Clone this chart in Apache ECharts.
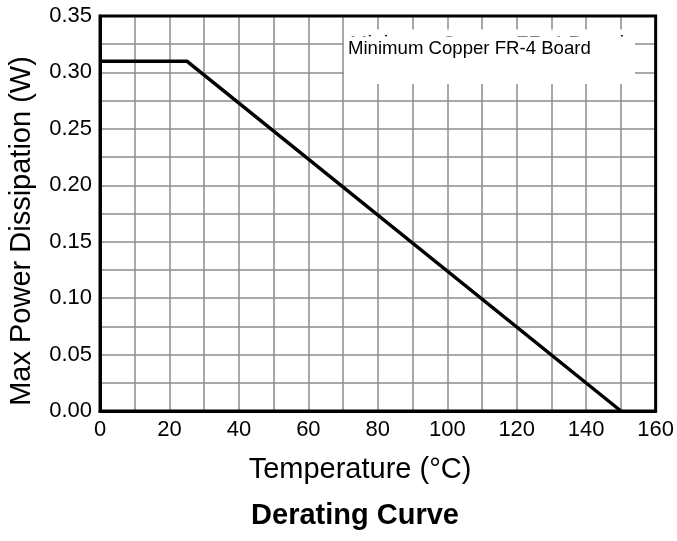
<!DOCTYPE html>
<html>
<head>
<meta charset="utf-8">
<script src="https://cdn.jsdelivr.net/npm/echarts@6/dist/echarts.min.js"></script>
<style>html,body{margin:0;padding:0;background:#fff;}#c{width:677px;height:541px;}</style>
</head>
<body>
<div id="c"></div>
<script>
var temperature = [0, 25, 150];
var maxPower = [0.31, 0.31, 0.00];
var chartTitle = 'Derating Curve';
var xName = 'Temperature (°C)';
var yName = 'Max Power Dissipation (W)';
var legendText = 'Minimum Copper FR-4 Board';

var FONT = "'Liberation Sans', Arial, sans-serif";
var chart = echarts.init(document.getElementById('c'));
var pts = temperature.map(function (t, i) { return [t, maxPower[i]]; });

chart.setOption({
  animation: false,
  backgroundColor: '#fff',
  grid: { left: 100, top: 16, width: 556, height: 395, show: true, borderColor: '#000', borderWidth: 3, backgroundColor: 'transparent', z: 3 },
  xAxis: {
    type: 'value', min: 0, max: 160, interval: 20,
    axisLine: { show: true, onZero: false, lineStyle: { color: '#000', width: 3 } },
    axisTick: { show: false },
    axisLabel: { color: '#000', fontFamily: FONT, fontSize: 22, margin: 8 },
    splitLine: { show: true, showMinLine: false, showMaxLine: false, lineStyle: { color: '#8c8c8c', width: 1.5 } },
    minorTick: { show: false, splitNumber: 2 },
    minorSplitLine: { show: true, lineStyle: { color: '#8c8c8c', width: 1.5 } }
  },
  yAxis: {
    type: 'value', min: 0, max: 0.35, interval: 0.05,
    axisLine: { show: true, onZero: false, lineStyle: { color: '#000', width: 3 } },
    axisTick: { show: false },
    axisLabel: { color: '#000', fontFamily: FONT, fontSize: 22, margin: 8, formatter: function (v) { return v.toFixed(2); } },
    splitLine: { show: true, showMinLine: false, showMaxLine: false, lineStyle: { color: '#8c8c8c', width: 1.5 } },
    minorTick: { show: false, splitNumber: 2 },
    minorSplitLine: { show: true, lineStyle: { color: '#8c8c8c', width: 1.5 } }
  },
  series: [{
    type: 'line', data: pts, symbol: 'none', z: 5,
    lineStyle: { color: '#000', width: 3.5 }
  }],
  graphic: [
    { type: 'rect', z: 10, shape: { x: 344, y: 29.5, width: 291, height: 54.5 }, style: { fill: '#fff' } },
    { type: 'text', z: 11, x: 350, y: 44.5, style: { text: legendText, font: '21px ' + FONT, fill: '#000', align: 'left', verticalAlign: 'middle' } },
    { type: 'rect', z: 12, shape: { x: 344, y: 36.5, width: 291, height: 47.5 }, style: { fill: '#fff' } },
    { type: 'text', z: 13, x: 348, y: 49, style: { text: legendText, font: '18.6px ' + FONT, fill: '#000', align: 'left', verticalAlign: 'middle' } },
    { type: 'text', z: 13, x: 22, y: 231, rotation: Math.PI / 2, style: { text: yName, font: '29px ' + FONT, fill: '#000', align: 'center', verticalAlign: 'middle' } },
    { type: 'text', z: 13, x: 360, y: 470, style: { text: xName, font: '29px ' + FONT, fill: '#000', align: 'center', verticalAlign: 'middle' } },
    { type: 'text', z: 13, x: 355, y: 516, style: { text: chartTitle, font: 'bold 29px ' + FONT, fill: '#000', align: 'center', verticalAlign: 'middle' } }
  ]
});
</script>
</body>
</html>
